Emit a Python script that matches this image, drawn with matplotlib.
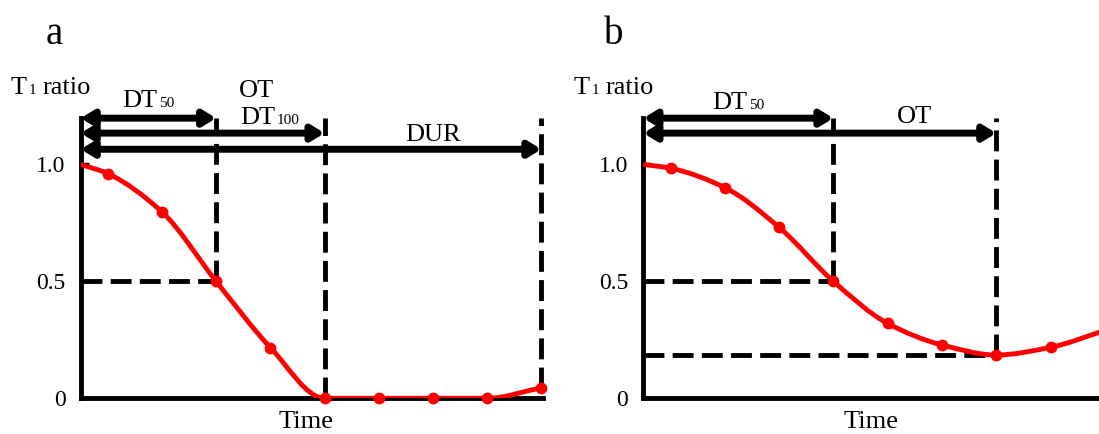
import numpy as np
import matplotlib
matplotlib.use("Agg")
import matplotlib.pyplot as plt
from matplotlib.path import Path
from matplotlib.patches import PathPatch
from matplotlib.offsetbox import TextArea, HPacker, AnnotationBbox

plt.rcParams['font.family'] = ['Liberation Serif', 'DejaVu Serif']

# Panel a: complete dissipation
time_a = [0, 0.5, 1.5, 2.5, 3.5, 4.5, 5.5, 6.5, 7.5, 8.5]
ratio_a = [1.0, 0.961, 0.797, 0.5, 0.217, 0.0, 0.0, 0.0, 0.0, 0.045]
dt50_a = 2.5
dt100_a = 4.5
dur_a = 8.5

# Panel b: incomplete dissipation, then rebound
time_b = [0, 0.5, 1.5, 2.5, 3.5, 4.5, 5.5, 6.5, 7.5, 8.5]
ratio_b = [1.0, 0.984, 0.901, 0.731, 0.5, 0.320, 0.228, 0.185, 0.218, 0.29]
dt50_b = 3.5
ot_b = 6.5

ytick_vals = [0, 0.5, 1.0]
ytick_labels = ['0', '0.5', '1.0']

FS = 19
SUB = 11
DASH = (0, (4.3, 1.7))
LW = 3.5


def smooth_path(x, y):
    # cubic bezier through every point, monotone tangents (no overshoot)
    x = np.asarray(x, float)
    y = np.asarray(y, float)
    d = np.diff(y) / np.diff(x)
    m = np.zeros_like(y)
    m[0], m[-1] = d[0], d[-1]
    for i in range(1, len(y) - 1):
        if d[i - 1] * d[i] > 0:
            m[i] = 2 / (1 / d[i - 1] + 1 / d[i])
    verts = [(x[0], y[0])]
    codes = [Path.MOVETO]
    for i in range(len(x) - 1):
        h = x[i + 1] - x[i]
        verts += [(x[i] + h / 3, y[i] + m[i] * h / 3),
                  (x[i + 1] - h / 3, y[i + 1] - m[i + 1] * h / 3),
                  (x[i + 1], y[i + 1])]
        codes += [Path.CURVE4] * 3
    return Path(verts, codes)


def setup(ax, xmax):
    ax.set_xlim(0, xmax)
    ax.set_ylim(0, 1.2)
    for s in ['top', 'right']:
        ax.spines[s].set_visible(False)
    for s in ['left', 'bottom']:
        ax.spines[s].set_linewidth(LW)
    ax.set_xticks([])
    ax.set_yticks(ytick_vals)
    ax.set_yticklabels(ytick_labels, fontsize=17)
    ax.tick_params(axis='y', direction='in', length=6, width=2.5, pad=11)
    ax.patch.set_visible(False)


def arrow(ax, x_end, y):
    ax.annotate('', xy=(x_end, y), xytext=(0, y),
                arrowprops=dict(arrowstyle='<|-|>,head_length=0.36,head_width=0.22',
                                color='black', lw=5, shrinkA=0, shrinkB=0,
                                mutation_scale=20),
                annotation_clip=False)


def vdash(ax, x, y0):
    ax.plot([x, x], [y0, 1.2], 'k', ls=DASH, lw=LW, zorder=2, clip_on=False)


def hdash(ax, x1, y):
    ax.plot([0, x1], [y, y], 'k', ls=DASH, lw=LW, zorder=2)


def curve(ax, t, r, marker_idx):
    ax.add_patch(PathPatch(smooth_path(t, r), fill=False, edgecolor='red',
                           lw=3.5, zorder=3, clip_on=True))
    ax.plot([t[i] for i in marker_idx], [r[i] for i in marker_idx], 'o',
            color='red', ms=7.5, zorder=4, clip_on=False)


def sub_label(where, x, y, base, sub, tail='', coords='data'):
    # base text with a small subscript sitting on the baseline
    parts = [TextArea(base, textprops=dict(fontsize=FS)),
             TextArea(sub, textprops=dict(fontsize=SUB))]
    box = HPacker(children=parts, align='baseline', pad=0, sep=1)
    if tail:
        box = HPacker(children=[box, TextArea(tail, textprops=dict(fontsize=FS))],
                      align='baseline', pad=0, sep=5)
    ab = AnnotationBbox(box, (x, y), xycoords=coords, frameon=False,
                        box_alignment=(0.5, 0.5), pad=0, annotation_clip=False)
    where.add_artist(ab)


fig = plt.figure(figsize=(10.99, 4.34), dpi=100)
ax_a = fig.add_axes([0.0734, 0.0823, 0.421, 0.6465])
ax_b = fig.add_axes([0.5854, 0.0823, 0.4146, 0.6465])

# ---- panel a
setup(ax_a, 8.535)
vdash(ax_a, dt50_a, 0.5)
vdash(ax_a, dt100_a, 0)
vdash(ax_a, dur_a, ratio_a[-1])
hdash(ax_a, dt50_a, 0.5)
curve(ax_a, time_a, ratio_a, range(1, len(time_a)))
arrow(ax_a, dt50_a, 1.198)
arrow(ax_a, dt100_a, 1.134)
arrow(ax_a, dur_a, 1.065)
sub_label(ax_a, dt50_a / 2, 1.27, 'DT', '50')
ax_a.text(3.24, 1.315, 'OT', fontsize=FS, ha='center', va='center', clip_on=False)
sub_label(ax_a, 3.49, 1.2, 'DT', '100')
ax_a.text((dt100_a + dur_a) / 2, 1.125, 'DUR', fontsize=FS, ha='center', va='center', clip_on=False)

# ---- panel b
setup(ax_b, 8.39)
vdash(ax_b, dt50_b, 0.5)
vdash(ax_b, ot_b, ratio_b[7])
hdash(ax_b, dt50_b, 0.5)
hdash(ax_b, ot_b, ratio_b[7])
curve(ax_b, time_b, ratio_b, range(1, len(time_b) - 1))
arrow(ax_b, dt50_b, 1.198)
arrow(ax_b, ot_b, 1.134)
sub_label(ax_b, dt50_b / 2, 1.265, 'DT', '50')
ax_b.text((dt50_b + ot_b) / 2, 1.205, 'OT', fontsize=FS, ha='center', va='center', clip_on=False)

# figure-level labels (pixel positions / figure size)
W, H = 1099, 434
for x, lab in [(54, 'a'), (614, 'b')]:
    fig.text(x / W, 1 - 34 / H, lab, fontsize=28, ha='center', va='center')
for x in [51, 614]:
    sub_label(fig, x / W, 1 - 88 / H, 'T', '1', tail='ratio', coords='figure fraction')
for x in [306, 871]:
    fig.text(x / W, 1 - 422 / H, 'Time', fontsize=FS, ha='center', va='center')

fig.savefig('out.png', dpi=100)
